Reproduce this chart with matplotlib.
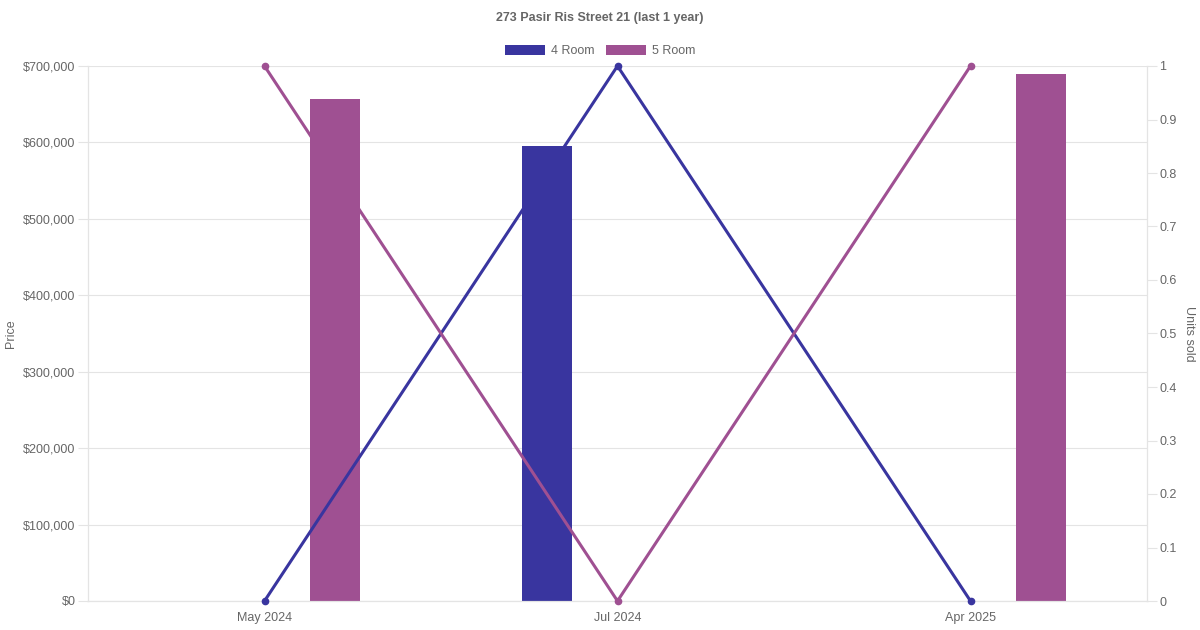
import numpy as np
import matplotlib
matplotlib.use("Agg")
from matplotlib import pyplot as plt
from matplotlib.patches import Patch
from matplotlib.ticker import FuncFormatter, MultipleLocator

months = ["May 2024", "Jul 2024", "Apr 2025"]
price_4room = [np.nan, 595000, np.nan]
price_5room = [657000, np.nan, 690000]
units_4room = [0, 1, 0]
units_5room = [1, 0, 1]

c4 = "#39359f"
c5 = "#9f5092"
grid_c = "#e4e4e4"
txt_c = "#666666"

plt.rcParams["font.family"] = ["Liberation Sans", "DejaVu Sans"]

fig = plt.figure(figsize=(12, 6.3), dpi=100)
ax = fig.add_axes([88 / 1200, 29 / 630, 1059 / 1200, 535 / 630])
ax2 = ax.twinx()

x = np.arange(len(months))
ax.bar(x - 0.2, price_4room, width=0.142, color=c4, zorder=2)
ax.bar(x + 0.2, price_5room, width=0.142, color=c5, zorder=2)

ax2.plot(x, units_4room, color=c4, lw=2.2, marker="o", ms=4.5, zorder=3, clip_on=False)
ax2.plot(x, units_5room, color=c5, lw=2.2, marker="o", ms=4.5, zorder=3, clip_on=False)

ax.set_xlim(-0.5, 2.5)
ax.set_ylim(0, 700000)
ax2.set_ylim(0, 1)
ax.yaxis.set_major_locator(MultipleLocator(100000))
ax.yaxis.set_major_formatter(FuncFormatter(lambda v, p: f"${v:,.0f}"))
ax2.yaxis.set_major_locator(MultipleLocator(0.1))
ax2.yaxis.set_major_formatter(FuncFormatter(lambda v, p: f"{v:g}"))
ax.set_xticks(x)
ax.set_xticklabels(months)

ax.grid(axis="y", color=grid_c, lw=0.8, zorder=0)
ax.set_axisbelow(True)
for a in (ax, ax2):
    for s in a.spines.values():
        s.set_color(grid_c)
        s.set_linewidth(0.8)
    a.spines["top"].set_visible(False)
ax.tick_params(axis="y", colors=grid_c, labelcolor=txt_c, labelsize=9, length=7, width=0.8, pad=2)
ax.tick_params(axis="x", colors=grid_c, labelcolor=txt_c, labelsize=9, length=0, pad=8)
ax2.tick_params(axis="y", colors=grid_c, labelcolor=txt_c, labelsize=9, length=7, width=0.8, pad=2)

ax.set_ylabel("Price", color=txt_c, fontsize=9, va="center")
ax.yaxis.set_label_coords(-0.0727, 0.5)
ax2.set_ylabel("Units sold", color=txt_c, fontsize=9, rotation=270, va="center")
ax2.yaxis.set_label_coords(1.0397, 0.5)

fig.text(0.5, 1 - 17 / 630, "273 Pasir Ris Street 21 (last 1 year)", ha="center", va="center_baseline",
         fontsize=9, fontweight="bold", color=txt_c)

handles = [Patch(facecolor=c4, label="4 Room"), Patch(facecolor=c5, label="5 Room")]
fig.legend(handles=handles, loc="center", bbox_to_anchor=(0.5, 1 - 51 / 630), ncol=2, frameon=False,
           fontsize=9, labelcolor=txt_c, handlelength=3.2, handleheight=0.9, columnspacing=0.9, handletextpad=0.5)

fig.savefig("out.png", dpi=100)
